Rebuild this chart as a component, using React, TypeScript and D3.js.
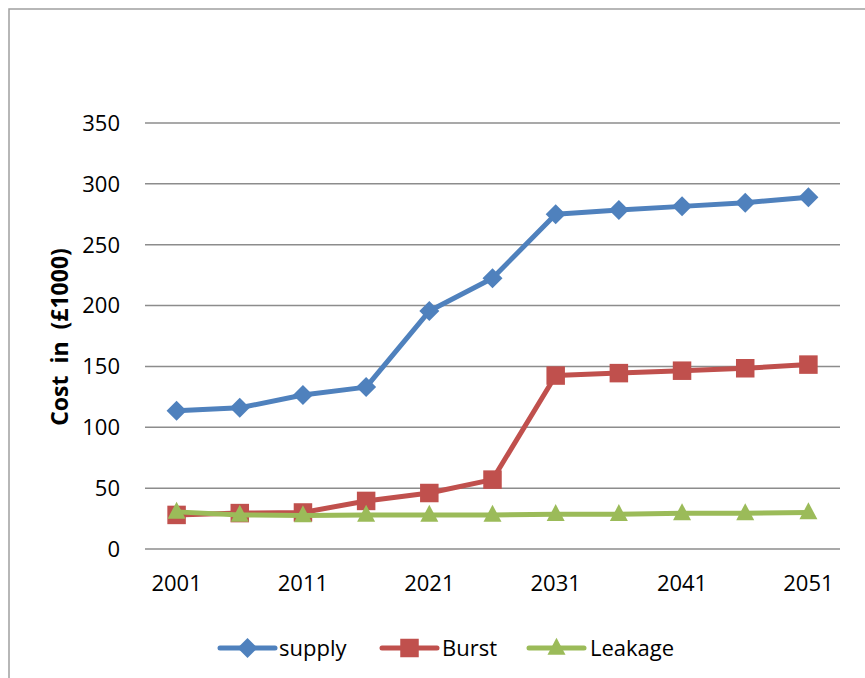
import React from "react";
import * as d3 from "d3";

// Cost projections (in £1000) for each five-year step
const years = ["2001", "2006", "2011", "2016", "2021", "2026", "2031", "2036", "2041", "2046", "2051"];
const supply = [113.5, 116, 126.5, 133, 195.5, 222.5, 275, 278.5, 281.5, 284.5, 289];
const burst = [28, 29.5, 30, 39.5, 46, 57, 142.5, 144.5, 146.5, 148.5, 151.5];
const leakage = [30.5, 28, 27.5, 28, 28, 28, 28.5, 28.5, 29.3, 29.3, 30];
const yTicks = [0, 50, 100, 150, 200, 250, 300, 350];
const xLabels = ["2001", "2011", "2021", "2031", "2041", "2051"];

const W = 865;
const H = 678;
const FONT = "'Open Sans', 'DejaVu Sans', sans-serif";

type Shape = "diamond" | "square" | "triangle";
interface Series {
  name: string;
  values: number[];
  color: string;
  shape: Shape;
}

const series: Series[] = [
  { name: "supply", values: supply, color: "#4F81BD", shape: "diamond" },
  { name: "Burst", values: burst, color: "#C0504D", shape: "square" },
  { name: "Leakage", values: leakage, color: "#9BBB59", shape: "triangle" },
];

function Marker({ shape, x, y, color }: { shape: Shape; x: number; y: number; color: string }) {
  if (shape === "diamond") {
    const r = 10;
    return <path d={`M${x},${y - r}L${x + r},${y}L${x},${y + r}L${x - r},${y}Z`} fill={color} />;
  }
  if (shape === "square") {
    const s = 18.5;
    return <rect x={x - s / 2} y={y - s / 2} width={s} height={s} fill={color} />;
  }
  const w = 18;
  const h = 17;
  return <path d={`M${x},${y - h * 0.6}L${x + w / 2},${y + h * 0.4}L${x - w / 2},${y + h * 0.4}Z`} fill={color} />;
}

export default function App() {
  const plotLeft = 145;
  const plotRight = 840;
  const x = d3.scaleBand<string>().domain(years).range([plotLeft, plotRight]).paddingInner(0).paddingOuter(0);
  const cx = (k: string) => (x(k) ?? 0) + x.bandwidth() / 2;
  const y = d3.scaleLinear().domain([0, 350]).range([549, 123]);

  const line = d3
    .line<number>()
    .x((_, i) => cx(years[i]))
    .y((v) => y(v));

  const legendItems = [
    { s: series[0], lx: 220, tx: 279 },
    { s: series[1], lx: 382, tx: 442 },
    { s: series[2], lx: 529, tx: 590 },
  ];
  const legendY = 648;

  return (
    <svg
      width={W}
      height={H}
      style={{ position: "absolute", left: 0, top: 0, background: "#fff", fontFamily: FONT }}
    >
      <rect x={0} y={0} width={W} height={H} fill="#fff" />
      <rect x={9} y={9} width={W + 20} height={H + 20} fill="none" stroke="#a0a0a0" strokeWidth={1.5} />

      {/* horizontal gridlines */}
      {yTicks.map((t) => (
        <line key={t} x1={plotLeft} x2={plotRight} y1={y(t)} y2={y(t)} stroke="#8c8c8c" strokeWidth={1.5} />
      ))}

      {/* y tick labels */}
      {yTicks.map((t) => (
        <text key={t} x={120} y={y(t)} dy="0.36em" textAnchor="end" fontSize={22} fill="#000">
          {t}
        </text>
      ))}

      {/* x tick labels */}
      {xLabels.map((k) => (
        <text key={k} x={cx(k)} y={591} textAnchor="middle" fontSize={22} fill="#000">
          {k}
        </text>
      ))}

      {/* y axis title */}
      <text
        transform={`translate(68,337) rotate(-90)`}
        textAnchor="middle"
        fontSize={23}
        fontWeight="bold"
        fill="#000"
        style={{ whiteSpace: "pre" }}
      >
        {"Cost  in  (£1000)"}
      </text>

      {/* series lines and markers */}
      {series.map((s) => (
        <g key={s.name}>
          <path
            d={line(s.values) ?? ""}
            fill="none"
            stroke={s.color}
            strokeWidth={5}
            strokeLinejoin="round"
            strokeLinecap="round"
          />
          {s.values.map((v, i) => (
            <Marker key={i} shape={s.shape} x={cx(years[i])} y={y(v)} color={s.color} />
          ))}
        </g>
      ))}

      {/* legend */}
      {legendItems.map(({ s, lx, tx }) => (
        <g key={s.name}>
          <line x1={lx} x2={lx + 55} y1={legendY} y2={legendY} stroke={s.color} strokeWidth={5} strokeLinecap="round" />
          <Marker shape={s.shape} x={lx + 27.5} y={legendY} color={s.color} />
          <text x={tx} y={legendY} dy="0.36em" fontSize={22} fill="#000">
            {s.name}
          </text>
        </g>
      ))}
    </svg>
  );
}
